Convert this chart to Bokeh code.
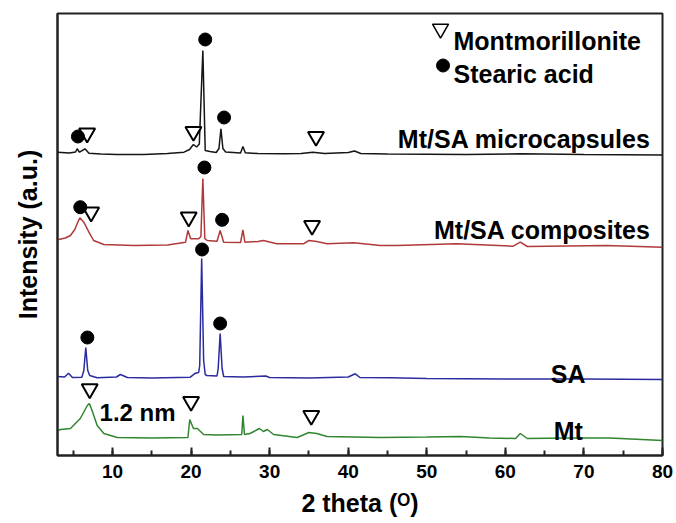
from bokeh.plotting import figure
from bokeh.models import Range1d, SingleIntervalTicker, FixedTicker
from bokeh.core.properties import value
from bokeh.embed import file_html
from bokeh.resources import INLINE

# ---- data (2 theta in degrees, intensity in a.u., traces stacked with offsets) ----
micro_x = [3.0, 4.5, 5.3, 5.5, 5.8, 6.5, 7.0, 8.5, 10.6, 14, 17, 19.1, 19.8, 20.3, 20.7, 21.05,
           21.5, 21.8, 22.4, 23.2, 23.55, 23.8, 24.05, 24.4, 26.3, 26.6, 26.9, 28.5, 31.8, 34,
           35.5, 37, 40, 40.8, 41.6, 45, 55, 62, 70, 80]
micro_y = [303.3, 302.5, 303.5, 306.7, 303.3, 306.7, 302.3, 301.5, 301, 301, 302, 303.3, 306, 311,
           308.5, 311.5, 405, 305, 304, 303, 307, 326.7, 307, 303.5, 302.5, 309, 302.7, 302, 301.7,
           302, 303.3, 302, 303, 304.5, 302, 301.5, 301, 301.7, 301, 300.5]

comp_x = [3.0, 4.0, 4.65, 5.2, 5.5, 5.85, 6.35, 7.0, 7.6, 8.9, 12.7, 17, 19.3, 19.6, 19.95, 20.97,
          21.25, 21.5, 21.75, 22.05, 23.3, 23.7, 24.15, 26.3, 26.6, 26.85, 28.5, 29.2, 30.9, 34.3,
          35, 36, 37.3, 40.7, 44.1, 46.2, 53.8, 61, 61.9, 62.8, 72.9, 80]
comp_y = [215.7, 217.5, 220, 226, 231.7, 237.7, 233.3, 223.3, 215, 211, 210, 210.5, 213.3, 225,
          216.7, 216.7, 219, 277, 217, 215, 214.3, 225, 213.3, 213, 225.7, 213.3, 214, 215, 211.7,
          211.7, 215, 214, 211.7, 212.7, 210, 210, 211.7, 209.3, 213.3, 209, 210, 208.3]

sa_x = [3.0, 3.9, 4.4, 4.9, 6.1, 6.35, 6.6, 6.85, 7.1, 8.05, 10.5, 11.0, 11.9, 15, 19.9, 20.55,
        20.97, 21.1, 21.35, 21.6, 21.8, 22.0, 23.3, 23.45, 23.7, 23.95, 24.15, 26.6, 29.5, 30,
        35, 40, 40.9, 41.5, 45.4, 50, 60, 70, 80]
sa_y = [79, 78.5, 82.3, 78, 78.3, 85, 108, 85, 80, 77.7, 78.5, 81, 78, 77.5, 78.3, 82.3, 83, 90,
        197, 95, 81, 80, 79.5, 87, 122, 87, 79, 78.5, 79.5, 78, 77.5, 78.5, 81.7, 78, 77.7, 77,
        76.5, 76.5, 76]

mt_x = [3.0, 3.4, 4.65, 5.9, 6.8, 7.05, 7.4, 8.05, 8.9, 10.6, 15, 19.6, 19.83, 20.3, 20.8, 21.6,
        23.3, 26.45, 26.6, 26.8, 27.5, 28.7, 29.2, 29.7, 30.5, 33.5, 35.0, 36.0, 37.3, 44.1, 50,
        54.3, 58, 61.3, 61.9, 62.8, 68, 73.3, 80]
mt_y = [25, 26, 27, 37, 50, 52, 45, 30, 22, 18, 17.5, 18, 36, 27, 27, 21, 20.5, 21, 40, 21, 22,
        27, 24, 26, 21, 18, 23, 22, 19, 18, 18.5, 19, 17.5, 17, 22, 17, 17.5, 17.5, 15]

# peak markers: stearic acid (filled circles) and montmorillonite (open triangles)
sa_mark_x = [5.6, 21.8, 24.2, 5.9, 21.7, 23.95, 6.8, 21.4, 23.7]
sa_mark_y = [319, 416, 338, 248.3, 288, 235.7, 118, 206, 132]
mt_mark_x = [6.77, 20.3, 35.9, 7.28, 19.7, 35.4, 7.1, 20.0, 35.3]
mt_mark_y = [322.3, 324, 319, 243.3, 238.3, 230, 66.6, 54, 40]

series_names = ["Mt/SA microcapsules", "Mt/SA composites", "SA", "Mt"]
series_colors = ["#151515", "#b03a3a", "#2b2ba0", "#2f862f"]

x_ticks_interval = 10

FONT = "Liberation Sans"

p = figure(width=676, height=523, output_backend="svg", toolbar_location=None, title=None,
           x_range=Range1d(3, 80), y_range=Range1d(0, 442),
           min_border_left=57, min_border_right=14, min_border_top=13, min_border_bottom=68)
p.grid.visible = False
p.background_fill_color = "white"
p.border_fill_color = "white"
p.outline_line_color = "#222222"
p.outline_line_width = 2

# lines
for xs, ys, c in zip([micro_x, comp_x, sa_x, mt_x], [micro_y, comp_y, sa_y, mt_y], series_colors):
    p.line(xs, ys, line_color=c, line_width=1.5)

# markers
p.scatter(mt_mark_x, mt_mark_y, marker="inverted_triangle", size=16,
          fill_color="white", line_color="black", line_width=2)
p.scatter(sa_mark_x, sa_mark_y, marker="circle", size=13,
          fill_color="black", line_color="black")

# series labels
lab_x = [78.5, 78.5, 68.0, 68.0]
lab_y = [317, 226, 82, 25]
lab_align = ["right", "right", "center", "center"]
for t, x, y, a in zip(series_names, lab_x, lab_y, lab_align):
    p.text([x], [y], text=[t], text_align=a, text_baseline="alphabetic",
           text_font=value(FONT), text_font_style="bold", text_font_size="25px", text_color="black")

p.text([8.35], [43.3], text=["1.2 nm"], text_align="left", text_baseline="alphabetic",
       text_font=value(FONT), text_font_style="bold", text_font_size="24px", text_color="black")

# legend
legend_labels = ["Montmorillonite", "Stearic acid"]
p.scatter([51.75], [426.7], marker="inverted_triangle", size=16, fill_color="white",
          line_color="black", line_width=1.5)
p.scatter([52.07], [390], marker="circle", size=13, fill_color="black", line_color="black")
p.text([53.4, 53.4], [415, 381.7], text=legend_labels, text_align="left", text_baseline="alphabetic",
       text_font=value(FONT), text_font_style="bold", text_font_size="25px", text_color="black")

# x axis
xa = p.xaxis[0]
xa.ticker = SingleIntervalTicker(interval=x_ticks_interval, num_minor_ticks=2)
xa.axis_label = "2 theta (ᴼ)"
xa.axis_label_text_font = FONT
xa.axis_label_text_font_style = "bold"
xa.axis_label_text_font_size = "25px"
xa.axis_label_text_color = "black"
xa.axis_label_standoff = 8
xa.major_label_text_font = FONT
xa.major_label_text_font_style = "bold"
xa.major_label_text_font_size = "19px"
xa.major_label_text_color = "black"
xa.major_label_standoff = 9
xa.major_tick_in = 8
xa.major_tick_out = 0
xa.minor_tick_in = 5
xa.minor_tick_out = 0
xa.major_tick_line_width = 2
xa.minor_tick_line_width = 2
xa.axis_line_width = 2
xa.axis_line_color = "#222222"
xa.major_tick_line_color = "#222222"
xa.minor_tick_line_color = "#222222"

# y axis
ya = p.yaxis[0]
ya.ticker = FixedTicker(ticks=[])
ya.axis_label = "Intensity (a.u.)"
ya.axis_label_text_font = FONT
ya.axis_label_text_font_style = "bold"
ya.axis_label_text_font_size = "25px"
ya.axis_label_text_color = "black"
ya.axis_label_standoff = 16
ya.major_tick_in = 0
ya.major_tick_out = 0
ya.minor_tick_in = 0
ya.minor_tick_out = 0
ya.axis_line_width = 2
ya.axis_line_color = "#222222"

open("out.html", "w").write(file_html(p, INLINE))
